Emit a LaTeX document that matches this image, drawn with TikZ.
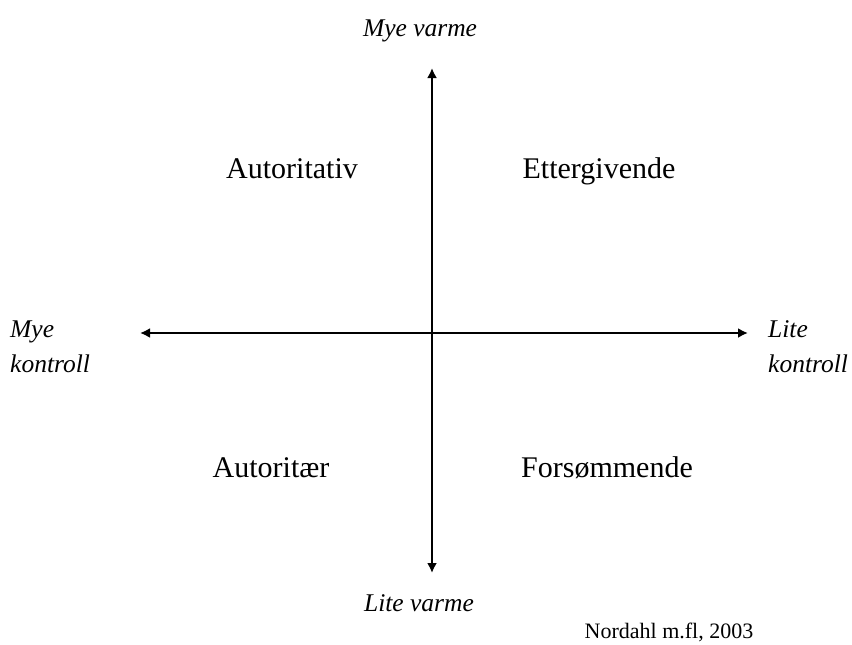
\documentclass[tikz,border=0pt]{standalone}
\usepackage{fontspec}
\setmainfont{Liberation Serif}
\usetikzlibrary{arrows.meta}
\begin{document}
\begin{tikzpicture}[x=1pt,y=-1pt,
  axis/.style={line width=2pt,{Latex[length=10pt,width=10pt]}-{Latex[length=10pt,width=10pt]}},
  quad/.style={font=\fontsize{30}{34}\selectfont,inner sep=0pt},
  lbl/.style={font=\fontsize{25.5}{35}\selectfont\itshape,inner sep=0pt,align=left}]
\useasboundingbox[fill=white] (0,0) rectangle (852,645);
\coordinate (top) at (432,68);
\coordinate (bot) at (432,573);
\coordinate (left) at (140,333);
\coordinate (right) at (748,333);
\draw[axis] (bot) -- (top);
\draw[axis] (left) -- (right);
\node[lbl,anchor=base] (mv) at (420,36) {Mye varme};
\node[lbl,anchor=base] (lv) at (419,611) {Lite varme};
\node[lbl,anchor=base west] (mk) at (10,372) {Mye\\kontroll};
\node[lbl,anchor=base west] (lk) at (768,372) {Lite\\kontroll};
\node[quad,anchor=base] (a1) at (292,178) {Autoritativ};
\node[quad,anchor=base] (a2) at (599,178) {Ettergivende};
\node[quad,anchor=base] (a3) at (271,477) {Autoritær};
\node[quad,anchor=base] (a4) at (607,477) {Forsømmende};
\node[font=\fontsize{22}{24}\selectfont,inner sep=0pt,anchor=base] (src) at (669,638) {Nordahl m.fl, 2003};
\end{tikzpicture}
\end{document}
